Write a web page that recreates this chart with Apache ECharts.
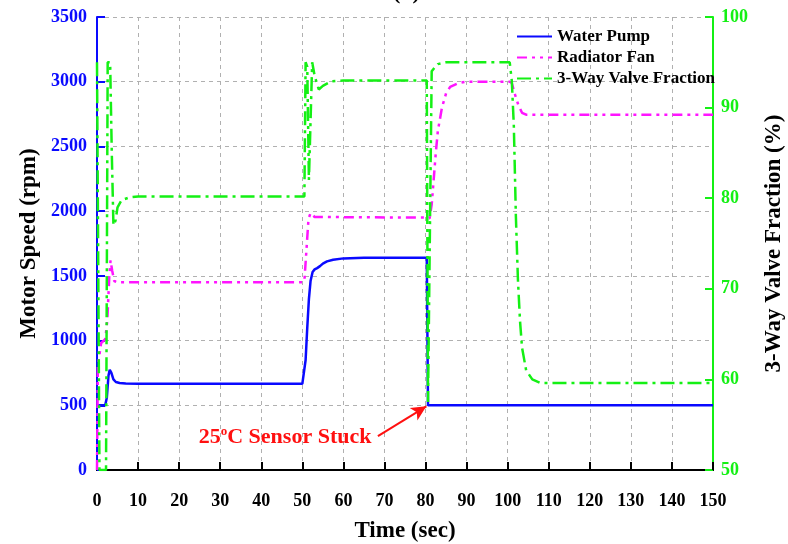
<!DOCTYPE html>
<html>
<head>
<meta charset="utf-8">
<script src="https://cdn.jsdelivr.net/npm/echarts@6/dist/echarts.min.js"></script>
<style>
  html, body { margin: 0; padding: 0; background: #fff; }
  #chart { width: 788px; height: 544px; }
</style>
</head>
<body>
<div id="chart"></div>
<script>
// Water pump speed (rpm) vs time (s)
const pumpTime = [0, 2, 2.4, 2.8, 3.1, 3.5, 4, 4.6, 5.5, 7, 10, 50, 50.4, 50.8, 51.2, 51.6, 52, 52.5, 53, 53.6, 54.3, 55, 56, 57.5, 60, 65, 80.3, 80.6, 150];
const pumpRpm  = [500, 500, 560, 730, 775, 750, 700, 680, 672, 668, 666, 666, 680, 850, 1100, 1320, 1460, 1530, 1550, 1560, 1575, 1595, 1612, 1625, 1635, 1640, 1640, 500, 500];

// Radiator fan speed (rpm) vs time (s)
const fanTime = [0, 0.2, 1, 2, 2.5, 3, 3.3, 3.7, 4.2, 5, 50, 50.5, 51, 51.5, 52, 53, 80, 81, 81.5, 82, 82.5, 83, 84, 85, 86, 88, 90, 100.5, 101, 101.8, 102.6, 103.5, 104.5, 150];
const fanRpm  = [0, 800, 980, 1010, 1150, 1500, 1620, 1540, 1460, 1450, 1450, 1460, 1700, 1940, 1985, 1955, 1950, 1945, 2050, 2250, 2450, 2620, 2800, 2910, 2960, 2990, 3000, 3000, 2990, 2900, 2820, 2760, 2745, 2745];

// 3-way valve opening fraction (%) vs time (s)
const valveTime = [0, 0.3, 0.6, 2.2, 2.6, 3.2, 3.6, 4, 4.5, 5, 6, 8, 10, 50, 50.5, 50.8, 51.2, 51.6, 52, 52.4, 53, 54, 55, 57, 60, 80.3, 80.6, 81, 81.5, 82, 83, 85, 100.5, 101, 101.5, 102, 102.5, 103, 103.5, 104.5, 106, 108, 150];
const valvePct  = [95, 95, 50, 50, 95, 95, 85, 77, 77.5, 79, 79.8, 80.1, 80.2, 80.2, 80.2, 95, 94.5, 82, 82, 95, 93.5, 92, 92.4, 92.9, 93, 93, 57.5, 57.5, 94, 94.3, 94.8, 95, 95, 93, 88, 78, 71, 66.5, 63.5, 61, 60, 59.6, 59.6];

// Axis ticks
const timeTicks = { min: 0, max: 150, step: 10 };
const rpmTicks = { min: 0, max: 3500, step: 500 };
const pctTicks = { min: 50, max: 100, step: 10 };

const seriesNames = ['Water Pump', 'Radiator Fan', '3-Way Valve Fraction'];

const FONT = 'Liberation Serif';
const BLUE = '#0a0aff';
const MAGENTA = '#ff14ff';
const GREEN = '#14f014';
const RED = '#ff1010';

const zip = (xs, ys) => xs.map((x, i) => [x, ys[i]]);
const plain = (v) => String(v);

const chart = echarts.init(document.getElementById('chart'), null, { renderer: 'canvas' });

const tickLabel = (color) => ({ color: color, fontFamily: FONT, fontWeight: 'bold', fontSize: 18, formatter: plain });
const axisName = { color: '#000', fontFamily: FONT, fontWeight: 'bold', fontSize: 23 };
const hidden = 'rgba(0,0,0,0)';

chart.setOption({
  animation: false,
  backgroundColor: '#fff',
  title: {
    text: '(b)', left: 388, top: -23,
    textStyle: { fontFamily: FONT, fontWeight: 'bold', fontSize: 22, color: '#000' }
  },
  grid: { left: 97, right: 75, top: 17, bottom: 74, containLabel: false, outerBoundsMode: 'none' },
  legend: {
    data: seriesNames,
    orient: 'vertical',
    left: 511, top: 23,
    itemWidth: 35, itemHeight: 12, itemGap: 4,
    itemStyle: { color: hidden, borderColor: hidden, borderWidth: 0, opacity: 0 },
    textStyle: { fontFamily: FONT, fontWeight: 'bold', fontSize: 17, color: '#000' }
  },
  xAxis: [{
    type: 'value', min: timeTicks.min, max: timeTicks.max, interval: timeTicks.step,
    name: 'Time (sec)', nameLocation: 'middle', nameGap: 50, nameTextStyle: axisName,
    axisLine: { show: true, onZero: false, lineStyle: { color: '#000', width: 2 } },
    axisTick: { show: true, inside: true, length: 8, lineStyle: { color: '#000', width: 2 } },
    axisLabel: Object.assign({ margin: 22 }, tickLabel('#000')),
    splitLine: { show: true, lineStyle: { color: '#b0b0b0', type: [4, 4], width: 1 } }
  }, {
    type: 'value', position: 'top', min: timeTicks.min, max: timeTicks.max,
    axisLine: { show: true, lineStyle: { color: '#000', width: 2 } },
    axisTick: { show: false }, axisLabel: { show: false }, splitLine: { show: false }
  }],
  yAxis: [{
    type: 'value', position: 'left', min: rpmTicks.min, max: rpmTicks.max, interval: rpmTicks.step,
    name: 'Motor Speed (rpm)', nameLocation: 'middle', nameGap: 54, nameRotate: 90, nameTextStyle: axisName,
    axisLine: { show: true, onZero: false, lineStyle: { color: BLUE, width: 2 } },
    axisTick: { show: true, inside: true, length: 8, lineStyle: { color: BLUE, width: 2 } },
    axisLabel: Object.assign({ margin: 10 }, tickLabel(BLUE)),
    splitLine: { show: true, lineStyle: { color: '#b0b0b0', type: [4, 4], width: 1 } }
  }, {
    type: 'value', position: 'right', min: pctTicks.min, max: pctTicks.max, interval: pctTicks.step,
    name: '3-Way Valve Fraction (%)', nameLocation: 'middle', nameGap: 50, nameRotate: 90, nameTextStyle: axisName,
    axisLine: { show: true, onZero: false, lineStyle: { color: GREEN, width: 2 } },
    axisTick: { show: true, inside: true, length: 8, lineStyle: { color: GREEN, width: 2 } },
    axisLabel: Object.assign({ margin: 8 }, tickLabel(GREEN)),
    splitLine: { show: false }
  }],
  series: [{
    name: seriesNames[0], type: 'line', xAxisIndex: 0, yAxisIndex: 0,
    data: zip(pumpTime, pumpRpm), showSymbol: false, symbol: 'none', smooth: false,
    lineStyle: { color: BLUE, width: 2.5, type: 'solid' }, itemStyle: { color: BLUE },
    markLine: {
      silent: true, animation: false,
      symbol: ['none', 'arrow'], symbolSize: [11, 15],
      lineStyle: { color: RED, width: 2, type: 'solid' },
      label: { show: false },
      data: [[{ coord: [68.4, 262] }, { coord: [80.2, 492] }]]
    },
    markPoint: {
      silent: true, animation: false,
      data: [{
        coord: [45.8, 255], symbol: 'circle', symbolSize: 0,
        label: {
          show: true, position: 'inside',
          formatter: '{n|25}{s|o}{n|C Sensor Stuck}',
          rich: {
            n: { fontFamily: FONT, fontWeight: 'bold', fontSize: 22, color: RED, lineHeight: 24 },
            s: { fontFamily: FONT, fontWeight: 'bold', fontSize: 13, color: RED, verticalAlign: 'top', lineHeight: 24, padding: [0, 0, 10, 0] }
          }
        }
      }]
    }
  }, {
    name: seriesNames[1], type: 'line', xAxisIndex: 0, yAxisIndex: 0,
    data: zip(fanTime, fanRpm), showSymbol: false, symbol: 'none',
    lineStyle: { color: MAGENTA, width: 2.5, type: [10, 5, 3, 5, 3, 5] }, itemStyle: { color: MAGENTA }
  }, {
    name: seriesNames[2], type: 'line', xAxisIndex: 0, yAxisIndex: 1,
    data: zip(valveTime, valvePct), showSymbol: false, symbol: 'none',
    lineStyle: { color: GREEN, width: 2.5, type: [14, 5, 3, 5] }, itemStyle: { color: GREEN }
  }]
});
</script>
</body>
</html>
